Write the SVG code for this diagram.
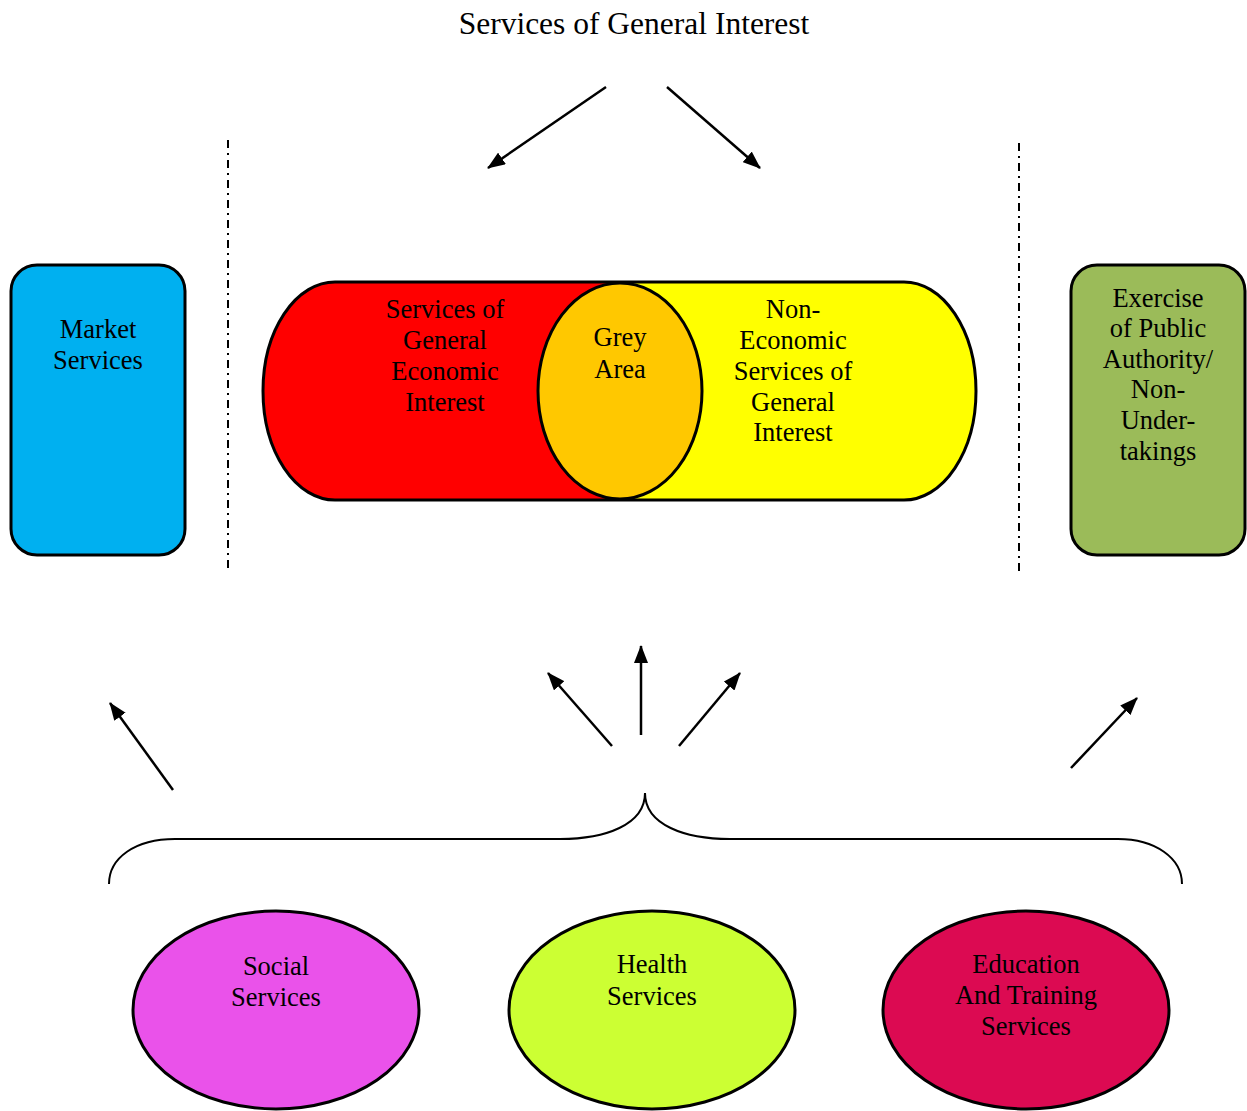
<svg xmlns="http://www.w3.org/2000/svg" width="1247" height="1111" viewBox="0 0 1247 1111">
<style>
text{font-family:"Liberation Serif","Times New Roman",serif;font-size:26.5px;fill:#000;text-anchor:middle}
.title{font-size:31.5px}
.shape{stroke:#000;stroke-width:3}
.arrow{stroke:#000;stroke-width:2.5;fill:none;marker-end:url(#ah)}
.dash{stroke:#000;stroke-width:2;stroke-dasharray:8,5,2,5;fill:none}
</style>
<defs>
<marker id="ah" viewBox="0 0 18 14" refX="17" refY="7" markerWidth="18" markerHeight="14" orient="auto" markerUnits="userSpaceOnUse">
<path d="M0,0 L18,7 L0,14 Z" fill="#000"/>
</marker>
</defs>
<rect width="1247" height="1111" fill="#fff"/>
<text class="title" x="634" y="34">Services of General Interest</text>

<g id="market">
<rect class="shape" x="11" y="265" width="174" height="290" rx="26" fill="#00B0F0"/>
<text x="98" y="338">Market</text><text x="98" y="369">Services</text>
</g>

<g id="cylinder">
<path d="M335,282 H620 V500 H335 A72,109 0 0 1 335,282 Z" fill="#FF0000"/>
<path d="M620,282 H904 A72,109 0 0 1 904,500 H620 Z" fill="#FFFF00"/>
<path class="shape" d="M335,282 H904 A72,109 0 0 1 904,500 H335 A72,109 0 0 1 335,282 Z" fill="none"/>
</g>
<g id="sgei">
<text x="445" y="318">Services of</text><text x="445" y="349">General</text><text x="445" y="380">Economic</text><text x="445" y="411">Interest</text>
</g>
<g id="nesgi">
<text x="793" y="318">Non-</text><text x="793" y="349">Economic</text><text x="793" y="380">Services of</text><text x="793" y="411">General</text><text x="793" y="441">Interest</text>
</g>
<g id="grey">
<ellipse class="shape" cx="620" cy="391" rx="82" ry="108" fill="#FFC800"/>
<text x="620" y="346">Grey</text><text x="620" y="378">Area</text>
</g>

<g id="public">
<rect class="shape" x="1071" y="265" width="174" height="290" rx="26" fill="#9BBB59"/>
<text x="1158" y="307">Exercise</text><text x="1158" y="337">of Public</text><text x="1158" y="368">Authority/</text><text x="1158" y="398">Non-</text><text x="1158" y="429">Under-</text><text x="1158" y="460">takings</text>
</g>

<g id="social">
<ellipse class="shape" cx="276" cy="1010" rx="143" ry="99" fill="#EA52EA"/>
<text x="276" y="975">Social</text><text x="276" y="1006">Services</text>
</g>
<g id="health">
<ellipse class="shape" cx="652" cy="1010" rx="143" ry="99" fill="#CCFF33"/>
<text x="652" y="973">Health</text><text x="652" y="1005">Services</text>
</g>
<g id="education">
<ellipse class="shape" cx="1026" cy="1010" rx="143" ry="99" fill="#DC0A52"/>
<text x="1026" y="973">Education</text><text x="1026" y="1004">And Training</text><text x="1026" y="1035">Services</text>
</g>

<g id="connectors">
<line class="dash" x1="228" y1="140" x2="228" y2="570"/>
<line class="dash" x1="1019" y1="143" x2="1019" y2="575"/>
<line class="arrow" x1="606" y1="87" x2="488" y2="168"/>
<line class="arrow" x1="667" y1="87" x2="760" y2="168"/>
<line class="arrow" x1="173" y1="790" x2="110" y2="703"/>
<line class="arrow" x1="612" y1="746" x2="548" y2="673"/>
<line class="arrow" x1="641" y1="735" x2="641" y2="646"/>
<line class="arrow" x1="679" y1="746" x2="740" y2="673"/>
<line class="arrow" x1="1071" y1="768" x2="1137" y2="698"/>
<path d="M109,884 C109,858 135,839 175,839 H560 C605,839 645,825 645,793 C645,825 685,839 730,839 H1118 C1155,839 1182,858 1182,884" fill="none" stroke="#000" stroke-width="2"/>
</g>
</svg>
